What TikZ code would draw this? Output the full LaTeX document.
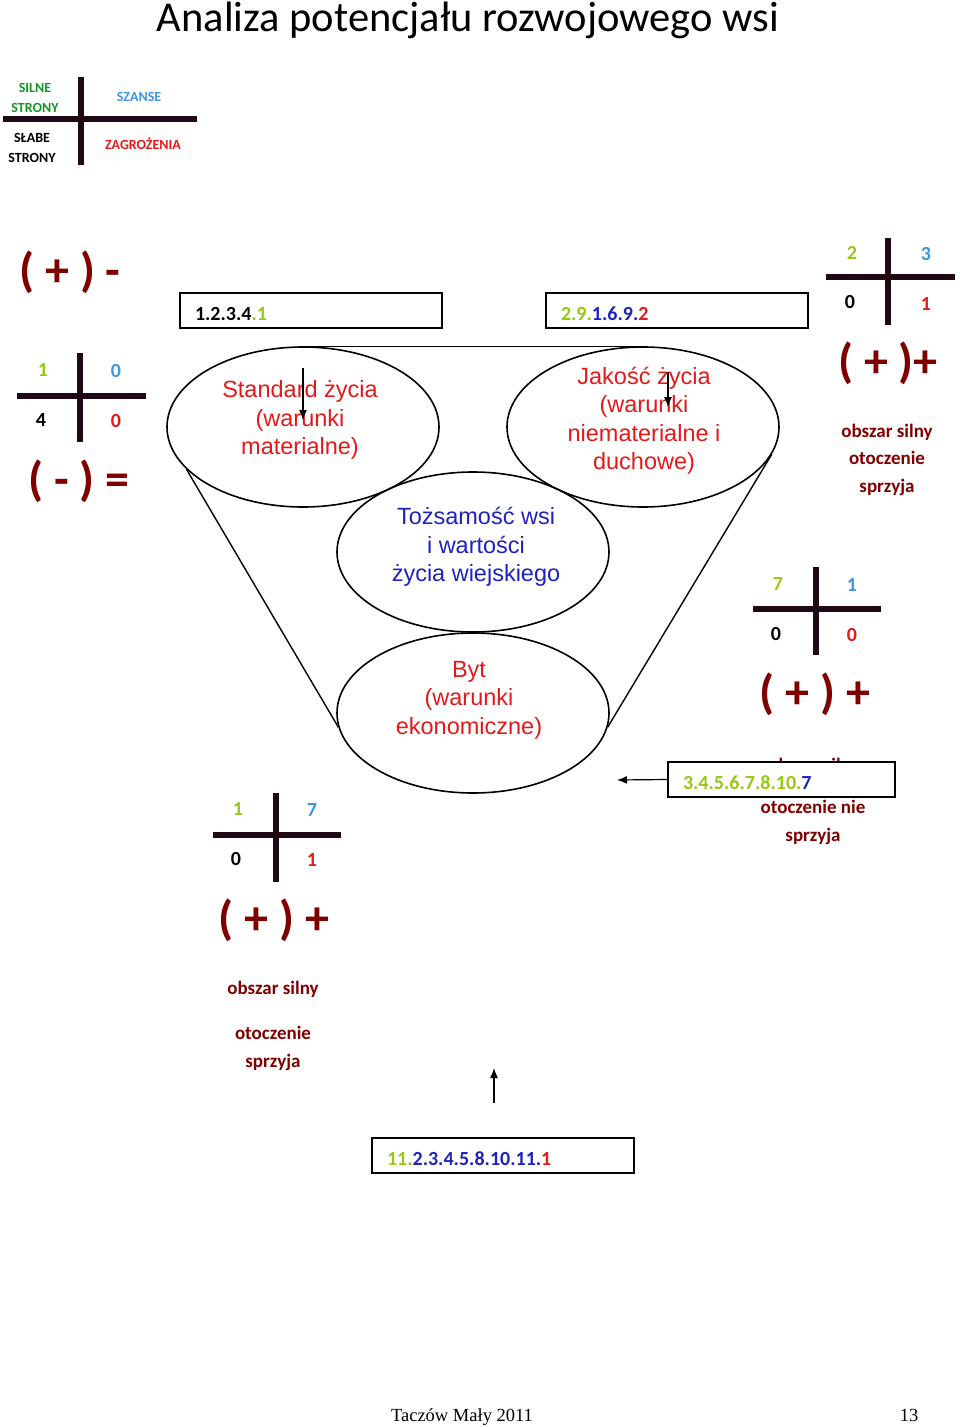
\documentclass[tikz,border=0pt]{standalone}
\usepackage{fontspec}
\setmainfont{Carlito}
\newfontfamily\arialfont{Liberation Sans}
\newfontfamily\timesfont{Liberation Serif}
\usetikzlibrary{shapes.geometric, arrows.meta}
\definecolor{darkred}{RGB}{128,0,0}
\definecolor{limegreen}{RGB}{150,200,20}
\definecolor{leafgreen}{RGB}{20,150,40}
\definecolor{skyblue}{RGB}{60,150,225}
\definecolor{brightred}{RGB}{228,25,25}
\definecolor{deepblue}{RGB}{30,35,190}
\definecolor{barcol}{RGB}{32,8,20}

\begin{document}
\begin{tikzpicture}[x=1pt, y=-1pt,
  bar/.style={line width=6pt, draw=barcol},
  num/.style={font=\bfseries\fontsize{20}{22}\selectfont},
  sign/.style={font=\bfseries\fontsize{48}{52}\selectfont, text=darkred},
  note/.style={font=\bfseries\fontsize{19}{27.5}\selectfont, text=darkred, align=center},
  legend/.style={font=\bfseries\fontsize{14}{20}\selectfont, align=center},
  oval/.style={draw, ellipse, line width=1.6pt, minimum width=272pt, minimum height=160pt},
  ovaltext/.style={font=\arialfont\fontsize{23.5}{28.5}\selectfont, align=center},
  codebox/.style={draw, line width=1.4pt, fill=white, minimum height=35pt, inner xsep=15pt, inner ysep=0pt,
    text width=232pt, align=left, text height=20pt, text depth=0pt, font=\bfseries\fontsize{20}{22}\selectfont},
  funnel/.style={line width=1.4pt},
  pointer/.style={->, >={Latex[length=10pt, width=8pt]}, line width=1.2pt}]
\useasboundingbox (0,0) rectangle (960,1427);

\node[anchor=base, font=\fontsize{42.5}{46}\selectfont] (title) at (468,31) {Analiza potencjału rozwojowego wsi};

% legend
\draw[bar] (3,119) -- (197,119);
\draw[bar] (81,77) -- (81,165);
\node[legend, text=leafgreen] (silne) at (35,98) {SILNE\\STRONY};
\node[legend, text=skyblue] (szanse) at (139,97) {SZANSE};
\node[legend] (slabe) at (32,148) {SŁABE\\STRONY};
\node[legend, text=brightred] (zagr) at (143,144) {ZAGROŻENIA};

\node[sign] (sg1) at (70,272) {( + ) -};

% code boxes
\node[codebox] (box1) at (311,310.5) {1.2.3.4\textcolor{limegreen}{.1}};
\node[codebox] (box2) at (677,310.5) {\textcolor{limegreen}{2.9.}\textcolor{deepblue}{1.6.9.}\textcolor{brightred}{2}};

% top right cross
\draw[bar] (826,277) -- (955,277);
\draw[bar] (888,238) -- (888,325);
\node[num, text=limegreen] (tr1) at (852,253) {2};
\node[num, text=skyblue] (tr2) at (926,254) {3};
\node[num] (tr3) at (850,302) {0};
\node[num, text=brightred] (tr4) at (926,304) {1};
\node[sign] (sg2) at (888,363) {( + )+};
\node[note] (nt1) at (887,459.5) {obszar silny\\otoczenie\\sprzyja};

% left cross
\draw[bar] (17,396) -- (146,396);
\draw[bar] (80,353) -- (80,442);
\node[num, text=limegreen] (lf1) at (43,370) {1};
\node[num, text=skyblue] (lf2) at (116,371) {0};
\node[num] (lf3) at (41,420) {4};
\node[num, text=brightred] (lf4) at (116,421) {0};
\node[sign] (sg3) at (79,481) {( - ) =};

% funnel
\node[oval] (stdel) at (303,427) {};
\node[oval] (jakel) at (643,427) {};
\node[oval] (tozel) at (473,552) {};
\node[oval] (bytel) at (473,713) {};
\draw[funnel] (stdel.north) -- (jakel.north);
\draw[funnel] (stdel.200) -- (bytel.186);
\draw[funnel] (jakel.348) -- (bytel.354);
\node[ovaltext, text=brightred] (stdtxt) at (300,420) {Standard życia\\(warunki\\materialne)};
\node[ovaltext, text=brightred] (jaktxt) at (644,421) {Jakość życia\\(warunki\\niematerialne i\\duchowe)};
\node[ovaltext, text=deepblue] (toztxt) at (476,547) {Tożsamość wsi\\i wartości\\życia wiejskiego};
\node[ovaltext, text=brightred] (byttxt) at (469,700) {Byt\\(warunki\\ekonomiczne)};
\coordinate (stdtop) at (303,368);
\coordinate (stdend) at (303,420);
\coordinate (jaktop) at (668,372);
\coordinate (jakend) at (668,407);
\draw[pointer] (stdtop) -- (stdend);
\draw[pointer] (jaktop) -- (jakend);

% middle right cross
\draw[bar] (753,609) -- (881,609);
\draw[bar] (816,567) -- (816,655);
\node[num, text=limegreen] (md1) at (778,584) {7};
\node[num, text=skyblue] (md2) at (852,585) {1};
\node[num] (md3) at (776,634) {0};
\node[num, text=brightred] (md4) at (852,635) {0};
\node[sign] (sg4) at (815,694) {( + ) +};
\node[note] (nt2) at (814,766) {obszar silny};
\node[codebox, text width=197pt] (box3) at (781.5,779.5) {\textcolor{limegreen}{3.4.5.6.7.8.10.}\textcolor{deepblue}{7}};
\node[note] (nt3) at (813,822.5) {otoczenie nie\\sprzyja};
\coordinate (box3end) at (617,780);
\draw[pointer] (box3.west) -- (box3end);

% bottom left cross
\draw[bar] (213,835) -- (341,835);
\draw[bar] (276,793) -- (276,882);
\node[num, text=limegreen] (bt1) at (238,809) {1};
\node[num, text=skyblue] (bt2) at (312,810) {7};
\node[num] (bt3) at (236,859) {0};
\node[num, text=brightred] (bt4) at (312,860) {1};
\node[sign] (sg5) at (274,920) {( + ) +};
\node[note] (nt4) at (273,989) {obszar silny};
\node[note] (nt5) at (273,1048.5) {otoczenie\\sprzyja};

% bottom box
\coordinate (uptail) at (494,1103);
\coordinate (uphead) at (494,1068);
\draw[pointer] (uptail) -- (uphead);
\node[codebox] (box4) at (503,1155.5) {\textcolor{limegreen}{11.}\textcolor{deepblue}{2.3.4.5.8.10.11.}\textcolor{brightred}{1}};

% footer
\node[anchor=base, font=\timesfont\fontsize{18.5}{20}\selectfont] (foot) at (462,1421) {Taczów Mały 2011};
\node[anchor=base, font=\timesfont\fontsize{18.5}{20}\selectfont] (page) at (909,1421) {13};
\end{tikzpicture}
\end{document}
